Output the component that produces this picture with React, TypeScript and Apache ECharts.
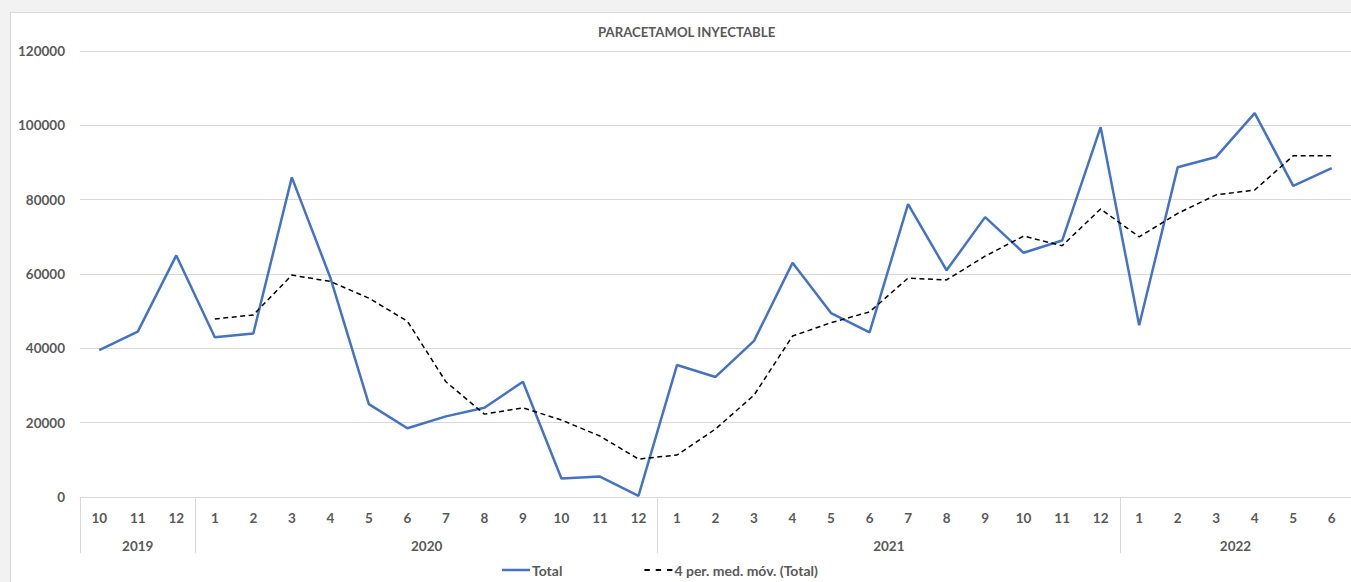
import React, { useEffect, useRef } from "react";
import * as echarts from "echarts";

const title = "PARACETAMOL INYECTABLE";
const years = ["2019", "2020", "2021", "2022"];
const monthsByYear = [
  ["10", "11", "12"],
  ["1", "2", "3", "4", "5", "6", "7", "8", "9", "10", "11", "12"],
  ["1", "2", "3", "4", "5", "6", "7", "8", "9", "10", "11", "12"],
  ["1", "2", "3", "4", "5", "6"],
];
const totalValues = [
  39500, 44500, 65000,
  43000, 44000, 86000, 59000, 25000, 18500, 21700, 24000, 31000, 5000, 5500, 300,
  35500, 32300, 42000, 63000, 49500, 44300, 78800, 61000, 75300, 65700, 69000, 99500,
  46200, 88700, 91500, 103300, 83700, 88500,
];
const movingAvgValues = [
  null, null, null,
  47900, 49000, 59700, 58000, 53500, 47300, 31000, 22300, 24000, 20700, 16400, 10200,
  11300, 18300, 27400, 43300, 46900, 49800, 58900, 58400, 64800, 70200, 67600, 77500,
  70000, 76300, 81300, 82600, 91800, 91800,
];
const seriesNames = ["Total", "4 per. med. móv. (Total)"];
const yTicks = { min: 0, max: 120000, interval: 20000 };

export default function App() {
  const ref = useRef<HTMLDivElement>(null);
  useEffect(() => {
    if (!ref.current) return;
    const chart = echarts.init(ref.current, undefined, { renderer: "svg" });

    const months: string[] = monthsByYear.flat();
    const n = months.length;
    const halfPts: string[] = new Array(2 * n + 1).fill("");
    const tickIdx = new Set<number>();
    let start = 0;
    monthsByYear.forEach((m, i) => {
      tickIdx.add(2 * start);
      halfPts[2 * start + m.length] = years[i];
      start += m.length;
    });
    tickIdx.add(2 * n);
    const labelIdx = new Set<number>();
    halfPts.forEach((v, i) => { if (v) labelIdx.add(i); });

    const font = "Lato, 'Open Sans', sans-serif";
    const gray = "#595959";
    const lineGray = "#d9d9d9";

    chart.setOption({
      animation: false,
      backgroundColor: "#ffffff",
      textStyle: { fontFamily: font },
      title: {
        text: title,
        left: 582,
        top: 7,
        textStyle: { fontSize: 13.2, fontWeight: "bold", color: gray, fontFamily: font },
      },
      legend: {
        data: [
          { name: seriesNames[0], icon: "rect", itemStyle: { color: "#4472c4" } },
          {
            name: seriesNames[1],
            icon: "path://M0,0h5v2h-5z M10.5,0h5v2h-5z M21,0h5v2h-5z",
            itemStyle: { color: "#000000" },
          },
        ],
        left: 486,
        top: 545,
        itemWidth: 28,
        itemHeight: 2.5,
        itemGap: 82,
        textStyle: { fontSize: 14, fontWeight: "bold", color: gray, fontFamily: font, padding: [0, 0, 0, -3] },
      },
      grid: { left: 69, top: 38, width: 1272.5, height: 446, containLabel: false },
      xAxis: [
        {
          type: "category",
          data: months,
          boundaryGap: true,
          position: "bottom",
          axisLine: { show: true, lineStyle: { color: lineGray, width: 1 } },
          axisTick: { show: false },
          axisLabel: { color: gray, fontSize: 13.5, fontWeight: "bold", margin: 14, interval: 0, fontFamily: font },
          splitLine: { show: false },
        },
        {
          type: "category",
          data: halfPts,
          boundaryGap: false,
          position: "bottom",
          axisLine: { show: false },
          axisTick: {
            show: true,
            length: 56,
            interval: (i: number) => tickIdx.has(i),
            lineStyle: { color: lineGray, width: 1 },
          },
          axisLabel: {
            color: gray,
            fontSize: 13.5,
            fontWeight: "bold",
            margin: 42,
            interval: (i: number) => labelIdx.has(i),
            fontFamily: font,
          },
          splitLine: { show: false },
        },
      ],
      yAxis: {
        type: "value",
        min: yTicks.min,
        max: yTicks.max,
        interval: yTicks.interval,
        axisLine: { show: false },
        axisTick: { show: false },
        axisLabel: {
          color: gray,
          fontSize: 13.5,
          fontWeight: "bold",
          margin: 15,
          fontFamily: font,
          formatter: (v: number) => String(v),
        },
        splitLine: { lineStyle: { color: lineGray, width: 1 } },
      },
      series: [
        {
          name: seriesNames[0],
          type: "line",
          data: totalValues,
          xAxisIndex: 0,
          symbol: "none",
          lineStyle: { color: "#4472c4", width: 2.5 },
          itemStyle: { color: "#4472c4" },
          z: 3,
        },
        {
          name: seriesNames[1],
          type: "line",
          data: movingAvgValues,
          xAxisIndex: 0,
          symbol: "none",
          connectNulls: false,
          lineStyle: { color: "#000000", width: 1.5, type: [5, 3.5] },
          itemStyle: { color: "#000000" },
          z: 4,
        },
      ],
    });
    return () => chart.dispose();
  }, []);

  return (
    <div style={{ position: "fixed", left: 0, top: 0, width: 1351, height: 582, background: "#f2f2f2", overflow: "hidden" }}>
      <div
        style={{
          position: "absolute",
          left: 10,
          top: 12,
          width: 1341,
          height: 570,
          borderLeft: "1px solid #d9d9d9",
          borderTop: "1px solid #d9d9d9",
          boxSizing: "border-box",
          background: "#ffffff",
        }}
      >
        <div ref={ref} style={{ width: 1340, height: 569 }} />
      </div>
    </div>
  );
}
